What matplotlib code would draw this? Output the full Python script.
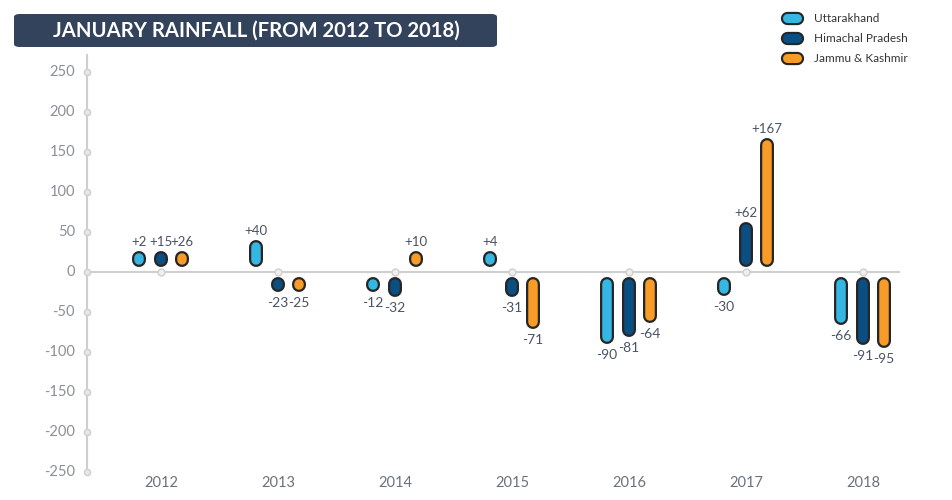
import numpy as np
import matplotlib.pyplot as plt
from matplotlib.patches import FancyBboxPatch
from matplotlib.lines import Line2D

years = ['2012', '2013', '2014', '2015', '2016', '2017', '2018']
states = ['Uttarakhand', 'Himachal Pradesh', 'Jammu & Kashmir']
uttarakhand = [2, 40, -12, 4, -90, -30, -66]
himachal = [15, -23, -32, -31, -81, 62, -91]
jammu_kashmir = [26, -25, 10, -71, -64, 167, -95]
colors = ['#35b6e3', '#0b4f82', '#f89b27']
yticks = [250, 200, 150, 100, 50, 0, -50, -100, -150, -200, -250]

W, H, DPI = 952, 500, 100
fig = plt.figure(figsize=(W / DPI, H / DPI), dpi=DPI)
ylo, yhi = -252, 271
ax = fig.add_axes([87 / W, (H - 473.4) / H, (900 - 87) / W, 418.4 / H])
ax.set_xlim(-0.632, 6.316)
ax.set_ylim(ylo, yhi)
for s in ax.spines.values():
    s.set_visible(False)

px_per_unit = 418.4 / (yhi - ylo)
bar_px = 14
half = (bar_px / 2) / px_per_unit
gap = 5 / px_per_unit
min_len = 1.5 / px_per_unit
lw_out = bar_px * 72 / DPI
lw_in = (bar_px - 4.5) * 72 / DPI
offsets = [-0.19, 0.0, 0.18]
grey = '#cfcfcf'
txt = '#4a5366'

# axes lines
ax.axvline(-0.632, color=grey, lw=1.5, ymin=0, ymax=1, clip_on=False)
ax.axhline(0, color=grey, lw=1.5)
ax.plot(np.full(len(yticks), -0.632), yticks, 'o', ms=4.5, mfc='#e6e6e6', mec=grey, mew=1, clip_on=False, zorder=3)
ax.plot(np.arange(len(years)), np.zeros(len(years)), 'o', ms=5, mfc='#eeeeee', mec=grey, mew=1, zorder=3)
for t in yticks:
    ax.text(-0.632 - 12 / 117, t, str(t), ha='right', va='center', fontsize=10.5, color='#8a8f99', family='Lato')
for i, yr in enumerate(years):
    ax.text(i, -264, yr, ha='center', va='center', fontsize=10.5, color='#6b717c', family='Lato')
ax.set_xticks([])
ax.set_yticks([])

series = [uttarakhand, himachal, jammu_kashmir]
for k, vals in enumerate(series):
    for i, v in enumerate(vals):
        x = i + offsets[k]
        sgn = 1 if v >= 0 else -1
        a = sgn * (gap + half)
        b = v - sgn * half
        if sgn * (b - a) < min_len:
            b = a + sgn * min_len
        ax.plot([x, x], [a, b], color='#262626', lw=lw_out, solid_capstyle='round', zorder=4)
        ax.plot([x, x], [a, b], color=colors[k], lw=lw_in, solid_capstyle='round', zorder=5)
        end = b + sgn * half
        lab = ('+%d' % v) if v > 0 else str(v)
        if v >= 0:
            ax.text(x, end + 3 / px_per_unit, lab, ha='center', va='bottom', fontsize=9.5, color=txt, family='Lato')
        else:
            ax.text(x, end - 5 / px_per_unit, lab, ha='center', va='top', fontsize=10, color=txt, family='Lato')

# title box
fig.patches.append(FancyBboxPatch((14 / W, (H - 47) / H), 483 / W, 33 / H,
                                  boxstyle='round,pad=0,rounding_size=0.006',
                                  transform=fig.transFigure, fc='#34435c', ec='none'))
fig.text(256 / W, (H - 31) / H, 'JANUARY RAINFALL (FROM 2012 TO 2018)', ha='center', va='center',
         fontsize=14.6, fontweight='bold', color='white', family='Lato')

# legend
for k, name in enumerate(states):
    yy = (H - (18 + k * 20)) / H
    fig.add_artist(Line2D([787 / W, 797 / W], [yy, yy], color='#262626', lw=lw_out * 0.95,
                          solid_capstyle='round', transform=fig.transFigure))
    fig.add_artist(Line2D([787 / W, 797 / W], [yy, yy], color=colors[k], lw=lw_in * 0.95,
                          solid_capstyle='round', transform=fig.transFigure))
    fig.text(814 / W, yy, name, ha='left', va='center', fontsize=8.5, color='#333333', family='Lato')

fig.savefig('out.png', dpi=DPI)
